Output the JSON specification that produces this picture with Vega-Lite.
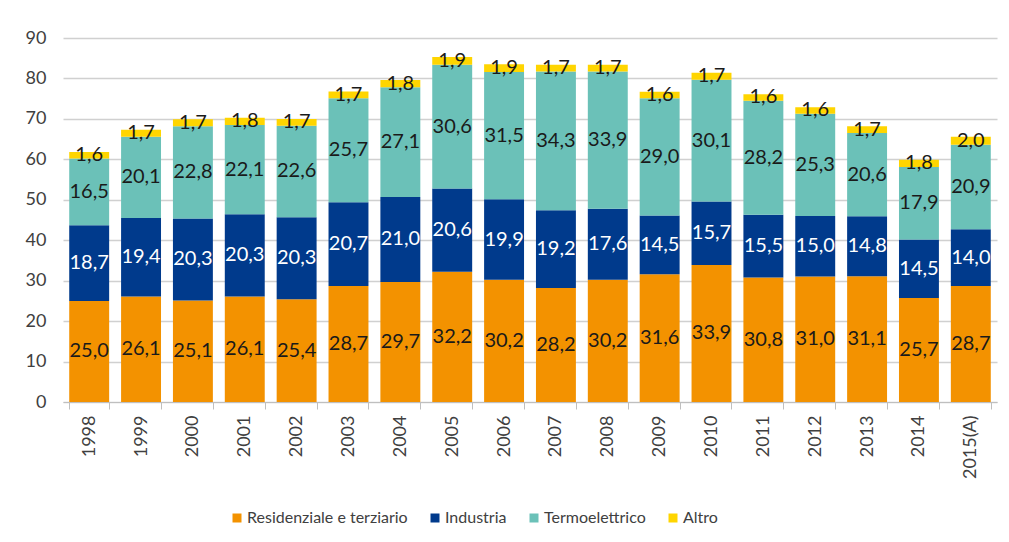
{
  "$schema": "https://vega.github.io/schema/vega-lite/v6.json",
  "width": 1009,
  "height": 542,
  "autosize": {"type": "fit", "contains": "padding"},
  "padding": {"left": 25, "right": 12, "top": 29, "bottom": 16},
  "config": {
    "font": "Lato",
    "locale": {"number": {"decimal": ",", "thousands": ".", "grouping": [3], "currency": ["", " €"]}},
    "view": {"stroke": null},
    "axis": {"labelFont": "Lato", "labelFontSize": 18, "labelColor": "#404040"}
  },
  "data": {
    "values": [
      {"year": "1998", "Residenziale e terziario": 25.0, "Industria": 18.7, "Termoelettrico": 16.5, "Altro": 1.6},
      {"year": "1999", "Residenziale e terziario": 26.1, "Industria": 19.4, "Termoelettrico": 20.1, "Altro": 1.7},
      {"year": "2000", "Residenziale e terziario": 25.1, "Industria": 20.3, "Termoelettrico": 22.8, "Altro": 1.7},
      {"year": "2001", "Residenziale e terziario": 26.1, "Industria": 20.3, "Termoelettrico": 22.1, "Altro": 1.8},
      {"year": "2002", "Residenziale e terziario": 25.4, "Industria": 20.3, "Termoelettrico": 22.6, "Altro": 1.7},
      {"year": "2003", "Residenziale e terziario": 28.7, "Industria": 20.7, "Termoelettrico": 25.7, "Altro": 1.7},
      {"year": "2004", "Residenziale e terziario": 29.7, "Industria": 21.0, "Termoelettrico": 27.1, "Altro": 1.8},
      {"year": "2005", "Residenziale e terziario": 32.2, "Industria": 20.6, "Termoelettrico": 30.6, "Altro": 1.9},
      {"year": "2006", "Residenziale e terziario": 30.2, "Industria": 19.9, "Termoelettrico": 31.5, "Altro": 1.9},
      {"year": "2007", "Residenziale e terziario": 28.2, "Industria": 19.2, "Termoelettrico": 34.3, "Altro": 1.7},
      {"year": "2008", "Residenziale e terziario": 30.2, "Industria": 17.6, "Termoelettrico": 33.9, "Altro": 1.7},
      {"year": "2009", "Residenziale e terziario": 31.6, "Industria": 14.5, "Termoelettrico": 29.0, "Altro": 1.6},
      {"year": "2010", "Residenziale e terziario": 33.9, "Industria": 15.7, "Termoelettrico": 30.1, "Altro": 1.7},
      {"year": "2011", "Residenziale e terziario": 30.8, "Industria": 15.5, "Termoelettrico": 28.2, "Altro": 1.6},
      {"year": "2012", "Residenziale e terziario": 31.0, "Industria": 15.0, "Termoelettrico": 25.3, "Altro": 1.6},
      {"year": "2013", "Residenziale e terziario": 31.1, "Industria": 14.8, "Termoelettrico": 20.6, "Altro": 1.7},
      {"year": "2014", "Residenziale e terziario": 25.7, "Industria": 14.5, "Termoelettrico": 17.9, "Altro": 1.8},
      {"year": "2015(A)", "Residenziale e terziario": 28.7, "Industria": 14.0, "Termoelettrico": 20.9, "Altro": 2.0}
    ]
  },
  "transform": [
    {"fold": ["Residenziale e terziario", "Industria", "Termoelettrico", "Altro"], "as": ["cat", "value"]},
    {"calculate": "indexof(['Residenziale e terziario','Industria','Termoelettrico','Altro'], datum.cat)", "as": "ord"},
    {"stack": "value", "groupby": ["year"], "sort": [{"field": "ord", "order": "ascending"}], "as": ["y0", "y1"]},
    {"calculate": "(datum.y0 + datum.y1) / 2", "as": "mid"}
  ],
  "encoding": {
    "x": {
      "field": "year", "type": "nominal", "title": null,
      "scale": {"paddingInner": 0.23, "paddingOuter": 0.12},
      "axis": {"labelAngle": -90, "tickBand": "extent", "domainColor": "#bfbfbf", "tickColor": "#bfbfbf", "tickSize": 7, "labelPadding": 6, "grid": false}
    }
  },
  "layer": [
    {
      "mark": {"type": "bar"},
      "encoding": {
        "y": {
          "field": "y1", "type": "quantitative", "title": null,
          "scale": {"domain": [0, 90]},
          "axis": {"values": [0, 10, 20, 30, 40, 50, 60, 70, 80, 90], "domain": false, "ticks": false, "labelPadding": 17, "gridColor": "#d0d0d0", "gridWidth": 1.5}
        },
        "y2": {"field": "y0"},
        "color": {
          "field": "cat", "type": "nominal", "title": " ",
          "sort": ["Residenziale e terziario", "Industria", "Termoelettrico", "Altro"],
          "scale": {"domain": ["Residenziale e terziario", "Industria", "Termoelettrico", "Altro"], "range": ["#F39200", "#003A8C", "#6BC1B8", "#FFD500"]},
          "legend": {"orient": "bottom", "offset": 31, "direction": "horizontal", "titleOrient": "left", "titlePadding": 166, "symbolType": "square", "symbolSize": 81, "symbolStrokeWidth": 0, "labelFontSize": 16, "labelLimit": 0, "labelColor": "#404040", "labelFont": "Lato", "columnPadding": 19, "labelOffset": 2}
        }
      }
    },
    {
      "mark": {"type": "text", "fontSize": 20, "baseline": "middle", "align": "center"},
      "encoding": {
        "y": {"field": "mid", "type": "quantitative"},
        "text": {"field": "value", "type": "quantitative", "format": ".1f"},
        "color": {"condition": {"test": "datum.cat === 'Industria'", "value": "#ffffff"}, "value": "#1a1a1a"}
      }
    }
  ]
}
